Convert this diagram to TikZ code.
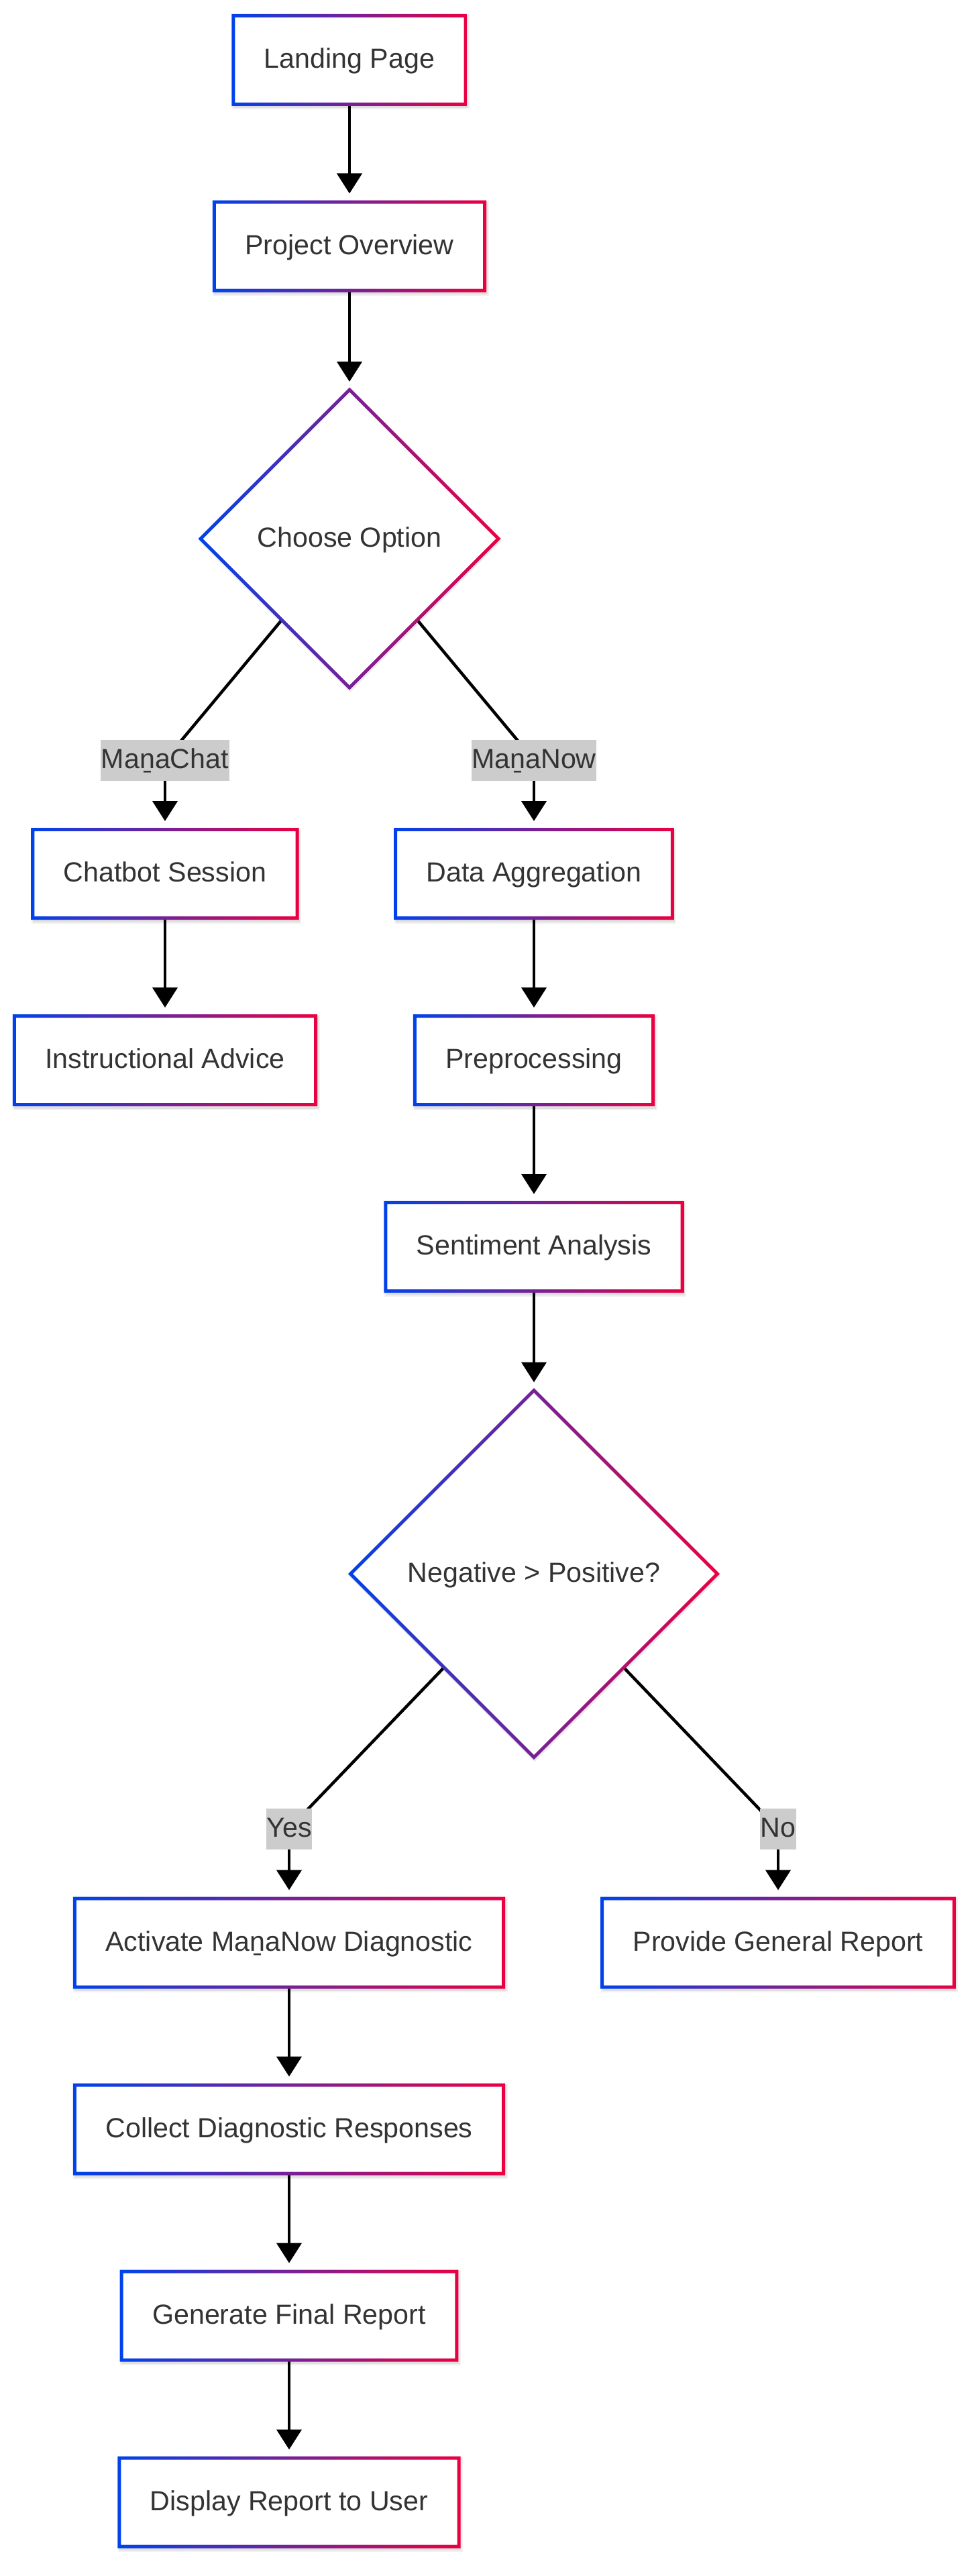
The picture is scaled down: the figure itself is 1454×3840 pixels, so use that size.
\documentclass[tikz,border=0pt]{standalone}
\usepackage{fontspec}
\setmainfont{Liberation Sans}
\usetikzlibrary{arrows.meta,shapes.geometric,calc}
\definecolor{gA}{HTML}{0042EB}
\definecolor{gB}{HTML}{EB0042}
\definecolor{txt}{HTML}{333333}
\definecolor{lblbg}{HTML}{CCCCCC}
\pgfdeclarelayer{bglayer}
\pgfdeclarelayer{shadowlayer}
\pgfdeclarelayer{edgelayer}
\pgfsetlayers{bglayer,shadowlayer,edgelayer,main}

\newcommand\gradbox[1]{%
  \begin{pgfonlayer}{shadowlayer}
    \fill[black,opacity=0.07] ($(#1.south west)+(0pt,-6pt)$) rectangle ($(#1.north east)+(4pt,0pt)$);
    \fill[black,opacity=0.05] ($(#1.south west)+(-2pt,-8pt)$) rectangle ($(#1.north east)+(6pt,2pt)$);
  \end{pgfonlayer}
  \shade[left color=gA,right color=gB,even odd rule]
    ($(#1.south west)+(-2.5pt,-2.5pt)$) rectangle ($(#1.north east)+(2.5pt,2.5pt)$)
    ($(#1.south west)+(2.5pt,2.5pt)$) rectangle ($(#1.north east)+(-2.5pt,-2.5pt)$);
}
\newcommand\graddia[1]{%
  \begin{pgfonlayer}{shadowlayer}
    \fill[black,opacity=0.07] ($(#1.north)+(1pt,0pt)$) -- ($(#1.east)+(5pt,-3pt)$) -- ($(#1.south)+(1pt,-7pt)$) -- ($(#1.west)+(-3pt,-3pt)$) -- cycle;
  \end{pgfonlayer}
  \shade[left color=gA,right color=gB,even odd rule]
    ($(#1.north)+(0pt,3.5pt)$) -- ($(#1.east)+(3.5pt,0pt)$) -- ($(#1.south)+(0pt,-3.5pt)$) -- ($(#1.west)+(-3.5pt,0pt)$) -- cycle
    ($(#1.north)+(0pt,-3.5pt)$) -- ($(#1.east)+(-3.5pt,0pt)$) -- ($(#1.south)+(0pt,3.5pt)$) -- ($(#1.west)+(3.5pt,0pt)$) -- cycle;
}

\tikzset{
  lbfont/.style={font=\fontsize{41.2}{49}\selectfont, text height=33pt, text depth=9pt},
  box/.style={rectangle, fill=white, text=txt, lbfont, minimum height=132pt,
    inner xsep=46pt, inner ysep=0pt, outer sep=0pt},
  dia/.style={diamond, aspect=1, fill=white, text=txt, lbfont, inner sep=0pt, outer sep=0pt},
  lbl/.style={rectangle, fill=lblbg, text=txt, lbfont, minimum height=61pt,
    inner xsep=0.5pt, inner ysep=0pt, outer sep=0pt},
  flow/.style={line width=4.5pt, draw=black, -{Triangle[width=37pt,length=30pt]}, shorten >=12.5pt},
  seg/.style={line width=4.5pt, draw=black}
}

\begin{document}
\begin{tikzpicture}[x=1pt,y=-1pt]
\begin{pgfonlayer}{bglayer}
  \fill[white] (0,0) rectangle (1454,3840);
\end{pgfonlayer}
\useasboundingbox (0,0) rectangle (1454,3840);

\node[box] (landing) at (521,89.5) {Landing Page};
\node[box] (project) at (521,367) {Project Overview};
\node[dia, minimum width=444pt, minimum height=444pt] (choose) at (521,803) {Choose Option};
\node[lbl] (lchat) at (246,1133) {MaṉaChat};
\node[lbl] (lnow) at (796,1133) {MaṉaNow};
\node[box] (chatbot) at (246,1302.5) {Chatbot Session};
\node[box] (dataagg) at (796,1302.5) {Data Aggregation};
\node[box] (instr) at (246,1580.5) {Instructional Advice};
\node[box] (prep) at (796,1580.5) {Preprocessing};
\node[box] (senti) at (796,1858.5) {Sentiment Analysis};
\node[dia, minimum width=547pt, minimum height=547pt] (neg) at (796,2346) {Negative > Positive?};
\node[lbl] (lyes) at (431,2726) {Yes};
\node[lbl] (lno) at (1160,2726) {No};
\node[box] (activate) at (431,2896) {Activate MaṉaNow Diagnostic};
\node[box] (provide) at (1160,2896) {Provide General Report};
\node[box] (collect) at (431,3174) {Collect Diagnostic Responses};
\node[box] (generate) at (431,3452) {Generate Final Report};
\node[box] (display) at (431,3730) {Display Report to User};

\gradbox{landing}
\gradbox{project}
\graddia{choose}
\gradbox{chatbot}
\gradbox{dataagg}
\gradbox{instr}
\gradbox{prep}
\gradbox{senti}
\graddia{neg}
\gradbox{activate}
\gradbox{provide}
\gradbox{collect}
\gradbox{generate}
\gradbox{display}

\begin{pgfonlayer}{edgelayer}
  \draw[flow] (landing.south) -- (project.north);
  \draw[flow, shorten >=12pt] (project.south) -- (choose.north);
  \draw[seg] (choose.center) -- (lchat.center);
  \draw[seg] (choose.center) -- (lnow.center);
  \draw[flow] (lchat.south) -- (chatbot.north);
  \draw[flow] (lnow.south) -- (dataagg.north);
  \draw[flow] (chatbot.south) -- (instr.north);
  \draw[flow] (dataagg.south) -- (prep.north);
  \draw[flow] (prep.south) -- (senti.north);
  \draw[flow, shorten >=12pt] (senti.south) -- (neg.north);
  \draw[seg] (neg.center) -- (lyes.center);
  \draw[seg] (neg.center) -- (lno.center);
  \draw[flow] (lyes.south) -- (activate.north);
  \draw[flow] (lno.south) -- (provide.north);
  \draw[flow] (activate.south) -- (collect.north);
  \draw[flow] (collect.south) -- (generate.north);
  \draw[flow] (generate.south) -- (display.north);
\end{pgfonlayer}
\end{tikzpicture}
\end{document}
